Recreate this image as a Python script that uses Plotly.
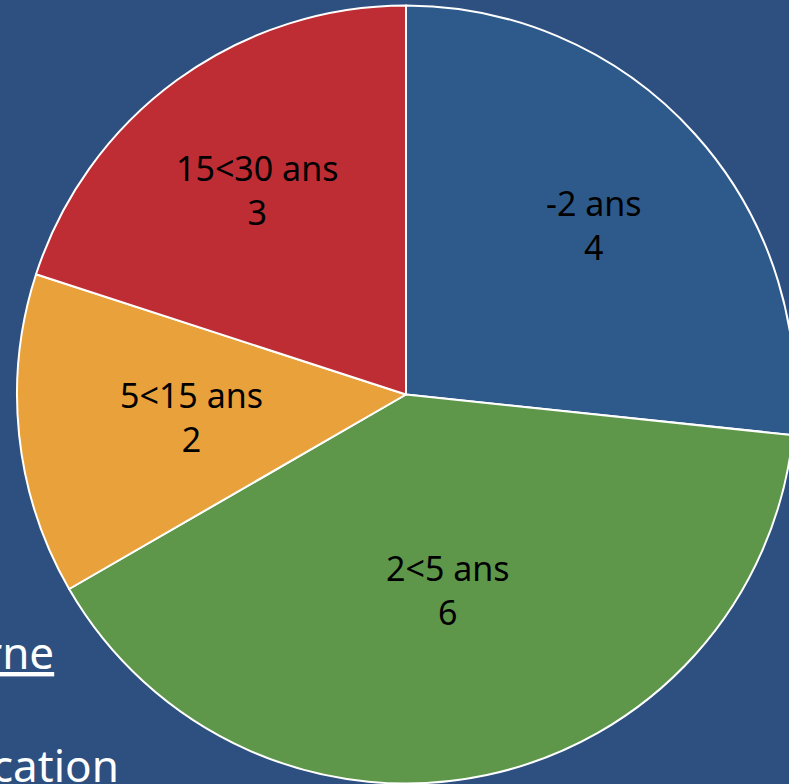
import math
import plotly.graph_objects as go

labels = ["-2 ans", "2<5 ans", "5<15 ans", "15<30 ans"]
values = [4, 6, 2, 3]
colors = ["#2E5A8B", "#5E9749", "#E9A23B", "#BE2D33"]
# radial position of each label, as a fraction of the pie radius (style)
label_rfrac = [0.65, 0.515, 0.555, 0.65]

VIEW_W = 789          # visible window width
W, H = 795, 784       # figure is a bit wider; the right edge of the pie is cut off like the original
dom_x = [17 / W, 1.0]
dom_y = [0.0, 779 / H]

fig = go.Figure()
fig.add_trace(go.Pie(
    labels=labels,
    values=values,
    sort=False,
    direction="clockwise",
    rotation=0,
    marker=dict(colors=colors, line=dict(color="white", width=2)),
    textinfo="none",
    showlegend=False,
    hoverinfo="label+value",
    domain=dict(x=dom_x, y=dom_y),
))

# pie geometry (paper pixels) derived from the domain, like plotly does
dw = (dom_x[1] - dom_x[0]) * W
dh = (dom_y[1] - dom_y[0]) * H
r = min(dw, dh) / 2
cx = (dom_x[0] + dom_x[1]) / 2 * W
cy = (dom_y[0] + dom_y[1]) / 2 * H  # from bottom

total = sum(values)
cum = 0
for lab, v, f in zip(labels, values, label_rfrac):
    mid = 2 * math.pi * (cum + v / 2) / total
    cum += v
    x = cx + f * r * math.sin(mid)
    y = cy + f * r * math.cos(mid)
    fig.add_annotation(
        text=f"{lab}<br>{v}", x=x / W, y=y / H, xref="paper", yref="paper",
        xanchor="center", yanchor="middle", showarrow=False,
        font=dict(family="Noto Sans", size=34, color="black"),
    )

# Slide text partly hidden behind the chart
fig.add_annotation(text="<u>rne</u>", x=56 / W, y=1 - 684 / H, xref="paper", yref="paper",
                   xanchor="right", yanchor="bottom", showarrow=False,
                   font=dict(family="Noto Sans", size=44, color="white"))
fig.add_annotation(text="cation", x=121 / W, y=1 - 797 / H, xref="paper", yref="paper",
                   xanchor="right", yanchor="bottom", showarrow=False,
                   font=dict(family="Noto Sans", size=44, color="white"))

fig.update_layout(
    width=W, height=H,
    margin=dict(l=0, r=0, t=0, b=0),
    paper_bgcolor="#2D5080",
    plot_bgcolor="#2D5080",
)

fig.write_html(
    "out.html",
    config={"displayModeBar": False},
    post_script=("document.body.style.margin='0';"
                 "document.body.style.overflow='hidden';"
                 "document.documentElement.style.overflow='hidden';"),
)
